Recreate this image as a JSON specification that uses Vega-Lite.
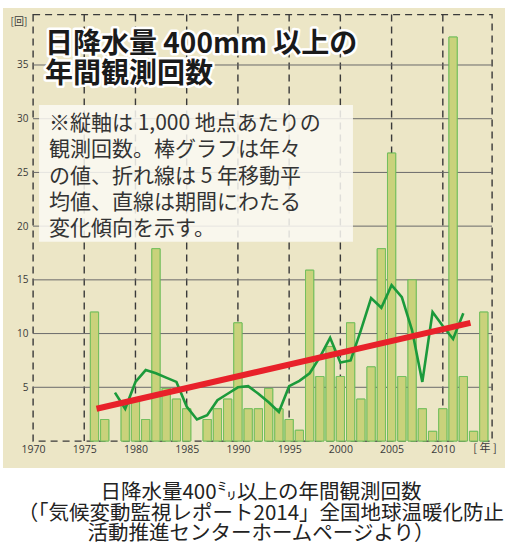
{
  "$schema": "https://vega.github.io/schema/vega-lite/v6.json",
  "autosize": {"type": "none"},
  "width": 459,
  "height": 426.5,
  "padding": {"left": 33, "top": 14.5, "right": 13, "bottom": 104},
  "background": "#ece6c6",
  "config": {
    "view": {"stroke": "#3a3a3a", "strokeDash": [7, 5], "strokeWidth": 1.4},
    "font": "Open Sans",
    "axis": {
      "grid": false, "ticks": false, "domain": false, "labelColor": "#3a3a3a", "labelFont": "Open Sans", "labelFlush": false
    },
    "axisX": {"labelFontSize": 10.5, "labelPadding": 3.5},
    "axisY": {"labelFontSize": 10, "labelPadding": 5}
  },
  "datasets": {
    "vspan": [{"count": 39.7}, {"count": 0}],
    "hspan": [{"year": 1970}, {"year": 2014.8}],
    "bars": [
      {"year": 1976, "count": 12}, {"year": 1977, "count": 2},
      {"year": 1979, "count": 3.4}, {"year": 1980, "count": 3.7}, {"year": 1981, "count": 2},
      {"year": 1982, "count": 17.9}, {"year": 1983, "count": 4.9}, {"year": 1984, "count": 3.9},
      {"year": 1985, "count": 3}, {"year": 1987, "count": 2}, {"year": 1988, "count": 3},
      {"year": 1989, "count": 3.9}, {"year": 1990, "count": 11}, {"year": 1991, "count": 3},
      {"year": 1992, "count": 3}, {"year": 1993, "count": 4.9}, {"year": 1994, "count": 3},
      {"year": 1995, "count": 2}, {"year": 1996, "count": 1}, {"year": 1997, "count": 15.9},
      {"year": 1998, "count": 6}, {"year": 1999, "count": 8.8}, {"year": 2000, "count": 6},
      {"year": 2001, "count": 11}, {"year": 2002, "count": 3.9}, {"year": 2003, "count": 6.9},
      {"year": 2004, "count": 17.9}, {"year": 2005, "count": 26.8}, {"year": 2006, "count": 6},
      {"year": 2007, "count": 15}, {"year": 2008, "count": 3}, {"year": 2009, "count": 0.9},
      {"year": 2010, "count": 3}, {"year": 2011, "count": 37.6}, {"year": 2012, "count": 6},
      {"year": 2013, "count": 0.9}, {"year": 2014, "count": 12}
    ],
    "ma": [
      {"year": 1978, "count": 4.5}, {"year": 1979, "count": 3.0}, {"year": 1980, "count": 5.5},
      {"year": 1981, "count": 6.6}, {"year": 1982, "count": 6.3}, {"year": 1983, "count": 5.9},
      {"year": 1984, "count": 5.5}, {"year": 1985, "count": 3.2}, {"year": 1986, "count": 2.0},
      {"year": 1987, "count": 2.4}, {"year": 1988, "count": 3.8}, {"year": 1989, "count": 4.4},
      {"year": 1990, "count": 5.0}, {"year": 1991, "count": 5.1}, {"year": 1992, "count": 4.4},
      {"year": 1993, "count": 3.6}, {"year": 1994, "count": 2.7}, {"year": 1995, "count": 5.1},
      {"year": 1996, "count": 5.6}, {"year": 1997, "count": 6.3}, {"year": 1998, "count": 7.8},
      {"year": 1999, "count": 9.6}, {"year": 2000, "count": 7.3}, {"year": 2001, "count": 7.5},
      {"year": 2002, "count": 10.3}, {"year": 2003, "count": 13.3}, {"year": 2004, "count": 12.4},
      {"year": 2005, "count": 14.5}, {"year": 2006, "count": 13.4}, {"year": 2007, "count": 10.3},
      {"year": 2008, "count": 5.5}, {"year": 2009, "count": 12.0}, {"year": 2010, "count": 10.7},
      {"year": 2011, "count": 9.5}, {"year": 2012, "count": 11.9}
    ],
    "trend": [
      {"year": 1976.2, "count": 3.0}, {"year": 2012.7, "count": 11.0}
    ]
  },
  "layer": [
    {
      "data": {"name": "bars"},
      "mark": {"type": "bar", "orient": "vertical", "width": 8.2, "fill": "#c9d27b", "stroke": "#74bf5e", "strokeWidth": 1},
      "encoding": {
        "x": {
          "field": "year", "type": "quantitative",
          "scale": {"domain": [1970, 2014.8], "nice": false, "zero": false, "padding": 0},
          "axis": {"values": [1970, 1975, 1980, 1985, 1990, 1995, 2000, 2005, 2010], "format": "d", "title": null}
        },
        "y": {
          "field": "count", "type": "quantitative",
          "scale": {"domain": [0, 39.7], "nice": false, "zero": false, "padding": 0},
          "axis": {"values": [5, 10, 15, 20, 25, 30, 35], "title": null}
        }
      }
    },
    {"data": {"name": "vspan"}, "mark": {"type": "line", "color": "#3a3a3a", "strokeWidth": 1.4, "strokeDash": [7, 5]}, "encoding": {"x": {"datum": 1975, "type": "quantitative"}, "y": {"field": "count", "type": "quantitative"}}},
    {"data": {"name": "vspan"}, "mark": {"type": "line", "color": "#3a3a3a", "strokeWidth": 1.4, "strokeDash": [7, 5]}, "encoding": {"x": {"datum": 1980, "type": "quantitative"}, "y": {"field": "count", "type": "quantitative"}}},
    {"data": {"name": "vspan"}, "mark": {"type": "line", "color": "#3a3a3a", "strokeWidth": 1.4, "strokeDash": [7, 5]}, "encoding": {"x": {"datum": 1985, "type": "quantitative"}, "y": {"field": "count", "type": "quantitative"}}},
    {"data": {"name": "vspan"}, "mark": {"type": "line", "color": "#3a3a3a", "strokeWidth": 1.4, "strokeDash": [7, 5]}, "encoding": {"x": {"datum": 1990, "type": "quantitative"}, "y": {"field": "count", "type": "quantitative"}}},
    {"data": {"name": "vspan"}, "mark": {"type": "line", "color": "#3a3a3a", "strokeWidth": 1.4, "strokeDash": [7, 5]}, "encoding": {"x": {"datum": 1995, "type": "quantitative"}, "y": {"field": "count", "type": "quantitative"}}},
    {"data": {"name": "vspan"}, "mark": {"type": "line", "color": "#3a3a3a", "strokeWidth": 1.4, "strokeDash": [7, 5]}, "encoding": {"x": {"datum": 2000, "type": "quantitative"}, "y": {"field": "count", "type": "quantitative"}}},
    {"data": {"name": "vspan"}, "mark": {"type": "line", "color": "#3a3a3a", "strokeWidth": 1.4, "strokeDash": [7, 5]}, "encoding": {"x": {"datum": 2005, "type": "quantitative"}, "y": {"field": "count", "type": "quantitative"}}},
    {"data": {"name": "vspan"}, "mark": {"type": "line", "color": "#3a3a3a", "strokeWidth": 1.4, "strokeDash": [7, 5]}, "encoding": {"x": {"datum": 2010, "type": "quantitative"}, "y": {"field": "count", "type": "quantitative"}}},
    {"data": {"name": "hspan"}, "mark": {"type": "line", "color": "#6a6a6a", "strokeWidth": 1}, "encoding": {"y": {"datum": 5, "type": "quantitative"}, "x": {"field": "year", "type": "quantitative"}}},
    {"data": {"name": "hspan"}, "mark": {"type": "line", "color": "#6a6a6a", "strokeWidth": 1}, "encoding": {"y": {"datum": 10, "type": "quantitative"}, "x": {"field": "year", "type": "quantitative"}}},
    {"data": {"name": "hspan"}, "mark": {"type": "line", "color": "#6a6a6a", "strokeWidth": 1}, "encoding": {"y": {"datum": 15, "type": "quantitative"}, "x": {"field": "year", "type": "quantitative"}}},
    {"data": {"name": "hspan"}, "mark": {"type": "line", "color": "#6a6a6a", "strokeWidth": 1}, "encoding": {"y": {"datum": 20, "type": "quantitative"}, "x": {"field": "year", "type": "quantitative"}}},
    {"data": {"name": "hspan"}, "mark": {"type": "line", "color": "#6a6a6a", "strokeWidth": 1}, "encoding": {"y": {"datum": 25, "type": "quantitative"}, "x": {"field": "year", "type": "quantitative"}}},
    {"data": {"name": "hspan"}, "mark": {"type": "line", "color": "#6a6a6a", "strokeWidth": 1}, "encoding": {"y": {"datum": 30, "type": "quantitative"}, "x": {"field": "year", "type": "quantitative"}}},
    {"data": {"name": "hspan"}, "mark": {"type": "line", "color": "#6a6a6a", "strokeWidth": 1}, "encoding": {"y": {"datum": 35, "type": "quantitative"}, "x": {"field": "year", "type": "quantitative"}}},
    {
      "data": {"name": "bars"},
      "mark": {"type": "bar", "orient": "vertical", "width": 8.2, "fill": "#c9d27b", "stroke": "#74bf5e", "strokeWidth": 1},
      "encoding": {
        "x": {"field": "year", "type": "quantitative"},
        "y": {"field": "count", "type": "quantitative"}
      }
    },
    {
      "data": {"values": [{}]},
      "mark": {"type": "rect", "fill": "#ffffff"},
      "encoding": {
        "x": {"datum": 1966, "type": "quantitative"},
        "x2": {"datum": 2017},
        "y": {"datum": -2.51, "type": "quantitative"},
        "y2": {"datum": -11}
      }
    },
    {
      "data": {"values": [{}]},
      "mark": {"type": "rect", "fill": "#ffffff"},
      "encoding": {
        "x": {"datum": 1966, "type": "quantitative"},
        "x2": {"datum": 2017},
        "y": {"datum": 41.3, "type": "quantitative"},
        "y2": {"datum": 40.3}
      }
    },
    {
      "data": {"values": [{}]},
      "mark": {"type": "rect", "fill": "#ffffff"},
      "encoding": {
        "x": {"datum": 1966, "type": "quantitative"},
        "x2": {"datum": 1967.07},
        "y": {"datum": 41.3, "type": "quantitative"},
        "y2": {"datum": -11}
      }
    },
    {
      "data": {"name": "ma"},
      "mark": {"type": "line", "color": "#1b9a3b", "strokeWidth": 2.6, "strokeJoin": "miter"},
      "encoding": {
        "x": {"field": "year", "type": "quantitative"},
        "y": {"field": "count", "type": "quantitative"}
      }
    },
    {
      "data": {"name": "trend"},
      "mark": {"type": "line", "color": "#e8212a", "strokeWidth": 6, "strokeCap": "butt"},
      "encoding": {
        "x": {"field": "year", "type": "quantitative"},
        "y": {"field": "count", "type": "quantitative"}
      }
    },
    {
      "data": {"values": [{}]},
      "mark": {"type": "rect", "fill": "#faf9f3", "opacity": 0.86},
      "encoding": {
        "x": {"datum": 1970.59, "type": "quantitative"},
        "x2": {"datum": 2001.23},
        "y": {"datum": 31.28, "type": "quantitative"},
        "y2": {"datum": 18.55}
      }
    },
    {
      "data": {"values": [{}]},
      "mark": {
        "type": "text", "align": "left", "baseline": "top", "lineHeight": 26.3,
        "font": "Noto Sans CJK JP", "fontSize": 21, "color": "#333333",
        "text": ["※縦軸は 1,000 地点あたりの", "観測回数。棒グラフは年々", "の値、折れ線は 5 年移動平", "均値、直線は期間にわたる", "変化傾向を示す。"]
      },
      "encoding": {
        "x": {"datum": 1971.56, "type": "quantitative"},
        "y": {"datum": 30.53, "type": "quantitative"}
      }
    },
    {
      "data": {"values": [{}]},
      "mark": {
        "type": "text", "align": "left", "baseline": "top", "lineHeight": 30,
        "font": "Noto Sans CJK JP", "fontSize": 28, "fontWeight": "bold",
        "fill": "#ffffff", "stroke": "#ffffff", "strokeWidth": 5, "strokeJoin": "round",
        "text": ["日降水量 400mm 以上の", "年間観測回数"]
      },
      "encoding": {
        "x": {"datum": 1971.17, "type": "quantitative"},
        "y": {"datum": 38.13, "type": "quantitative"}
      }
    },
    {
      "data": {"values": [{}]},
      "mark": {
        "type": "text", "align": "left", "baseline": "top", "lineHeight": 30,
        "font": "Noto Sans CJK JP", "fontSize": 28, "fontWeight": "bold", "color": "#1a1a1a",
        "text": ["日降水量 400mm 以上の", "年間観測回数"]
      },
      "encoding": {
        "x": {"datum": 1971.17, "type": "quantitative"},
        "y": {"datum": 38.13, "type": "quantitative"}
      }
    },
    {
      "data": {"values": [{}]},
      "mark": {"type": "text", "align": "center", "baseline": "middle", "font": "Noto Sans CJK JP", "fontSize": 10, "color": "#3a3a3a", "text": "[回]"},
      "encoding": {
        "x": {"datum": 1968.63, "type": "quantitative"},
        "y": {"datum": 39.0, "type": "quantitative"}
      }
    },
    {
      "data": {"values": [{}]},
      "mark": {"type": "text", "align": "center", "baseline": "middle", "font": "Noto Sans CJK JP", "fontSize": 11, "color": "#3a3a3a", "text": "[ 年 ]"},
      "encoding": {
        "x": {"datum": 2014.12, "type": "quantitative"},
        "y": {"datum": -0.75, "type": "quantitative"}
      }
    },
    {
      "data": {"values": [{}]},
      "mark": {
        "type": "text", "align": "center", "baseline": "top", "lineHeight": 20.5,
        "font": "Noto Sans CJK JP", "fontSize": 20.5, "color": "#222222",
        "text": ["日降水量400㍉以上の年間観測回数", "（「気候変動監視レポート2014」全国地球温暖化防止", "活動推進センターホームページより）"]
      },
      "encoding": {
        "x": {"datum": 1992.25, "type": "quantitative"},
        "y": {"datum": -3.93, "type": "quantitative"}
      }
    }
  ]
}
